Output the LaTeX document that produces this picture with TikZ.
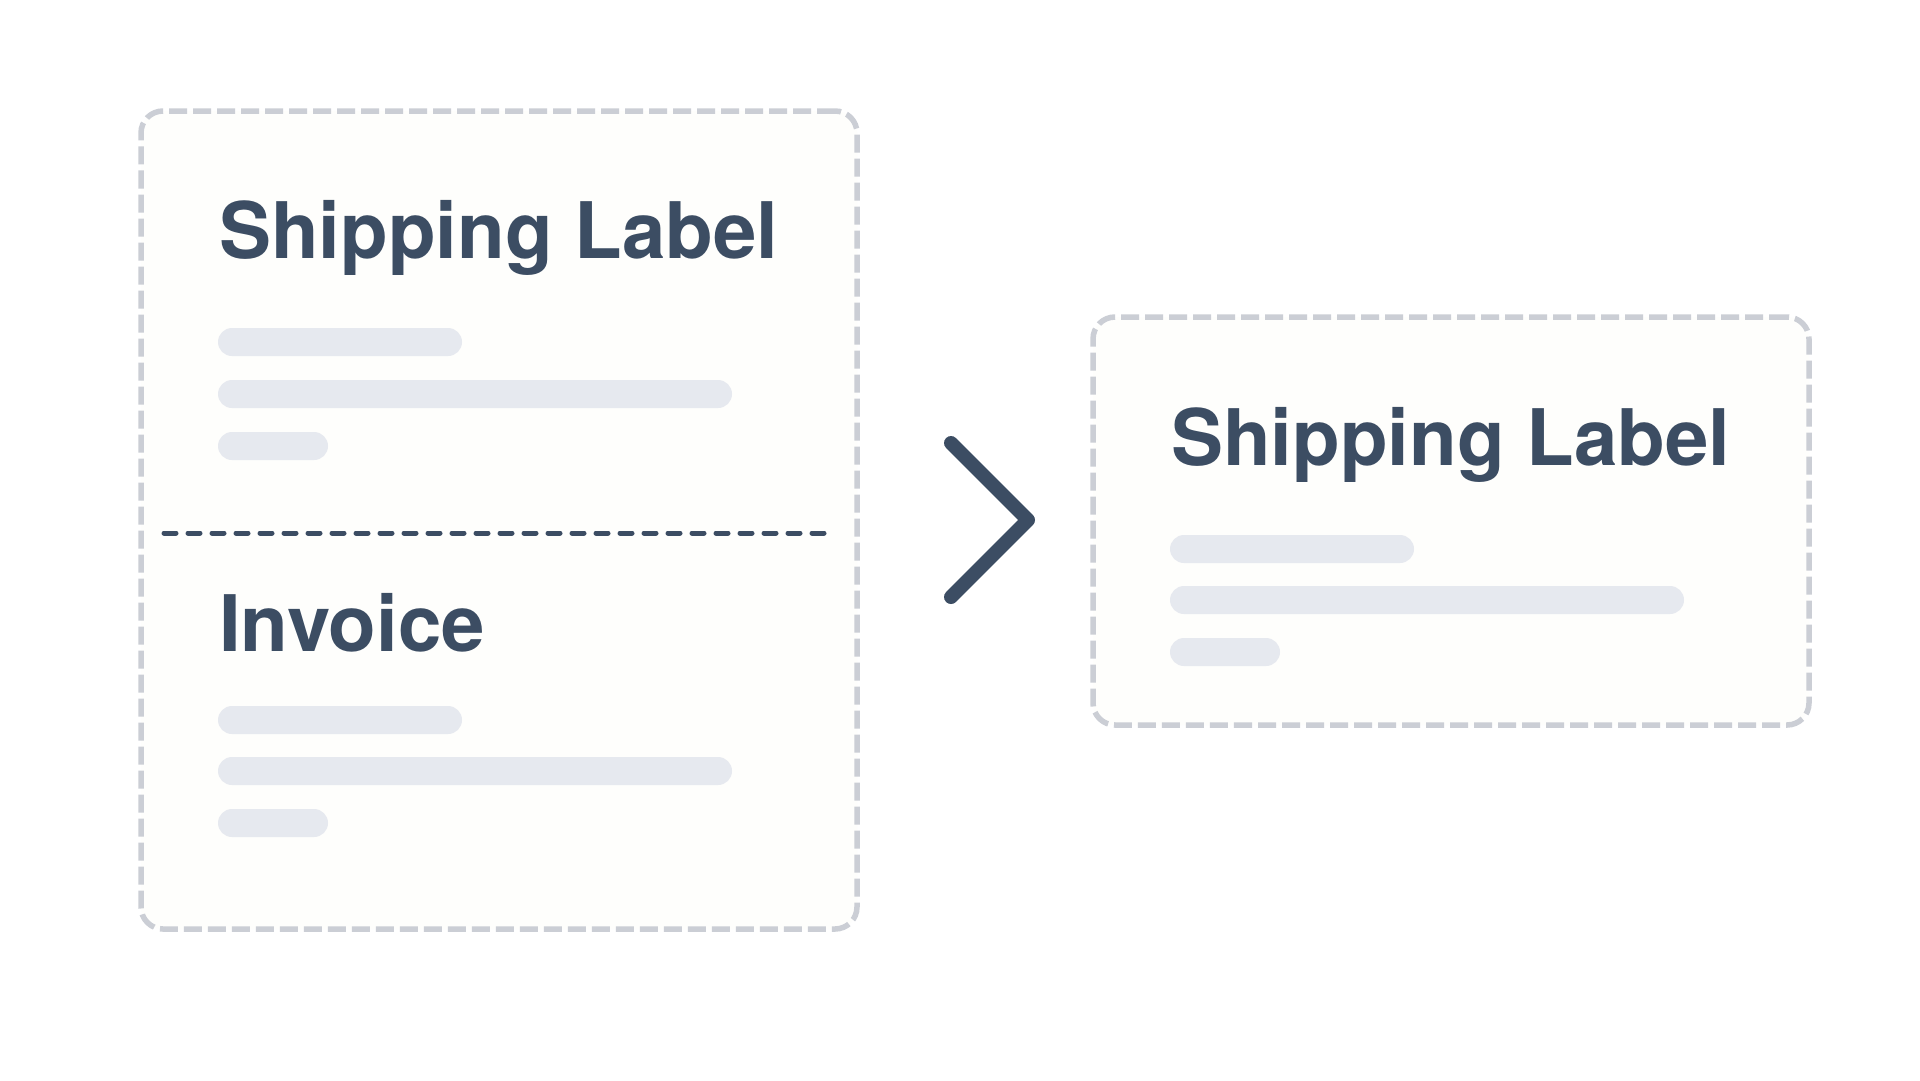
\documentclass[tikz,border=0pt]{standalone}
\usepackage{fontspec}
\setmainfont{TeX Gyre Heros}
\definecolor{ink}{HTML}{3C4D63}
\definecolor{frame}{HTML}{CBCED5}
\definecolor{barc}{HTML}{E6E9EF}
\definecolor{paper}{HTML}{FEFEFC}
\tikzset{
  docbox/.style={draw=frame, line width=5.5pt, dash pattern=on 18pt off 6pt, fill=paper, rounded corners=22pt, inner sep=0pt, outer sep=0pt, anchor=north west},
  title/.style={anchor=base west, inner sep=0pt, text=ink, font=\fontsize{78}{78}\selectfont\bfseries},
  barline/.style={fill=barc, rounded corners=14pt},
  divider/.style={draw=ink, line width=5pt, line cap=round, dash pattern=on 12pt off 12pt},
  chevron/.style={draw=ink, line width=14pt, line cap=round, line join=round}
}
\begin{document}
\begin{tikzpicture}[x=1pt, y=-1pt]
\useasboundingbox (0,0) rectangle (1920,1080);
\fill[white] (0,0) rectangle (1920,1080);

% left document
\node[docbox, minimum width=716pt, minimum height=818pt] (leftbox) at (141,111) {};
\node[title] (lefttitle) at (219,258) {Shipping Label};
\fill[barline] (218,328) rectangle (462,356);
\fill[barline] (218,380) rectangle (732,408);
\fill[barline] (218,432) rectangle (328,460);
\coordinate (divL) at (164,533);
\coordinate (divR) at (826,533);
\draw[divider] (divL) -- (divR);
\node[title] (invtitle) at (219,651) {Invoice};
\fill[barline] (218,706) rectangle (462,734);
\fill[barline] (218,757) rectangle (732,785);
\fill[barline] (218,809) rectangle (328,837);

% chevron
\coordinate (chA) at (951,443);
\coordinate (chB) at (1028,520);
\coordinate (chC) at (951,597);
\draw[chevron] (chA) -- (chB) -- (chC);

% right document
\node[docbox, minimum width=716pt, minimum height=408pt] (rightbox) at (1093,317) {};
\node[title] (righttitle) at (1171,465) {Shipping Label};
\fill[barline] (1170,535) rectangle (1414,563);
\fill[barline] (1170,586) rectangle (1684,614);
\fill[barline] (1170,638) rectangle (1280,666);
\end{tikzpicture}
\end{document}
